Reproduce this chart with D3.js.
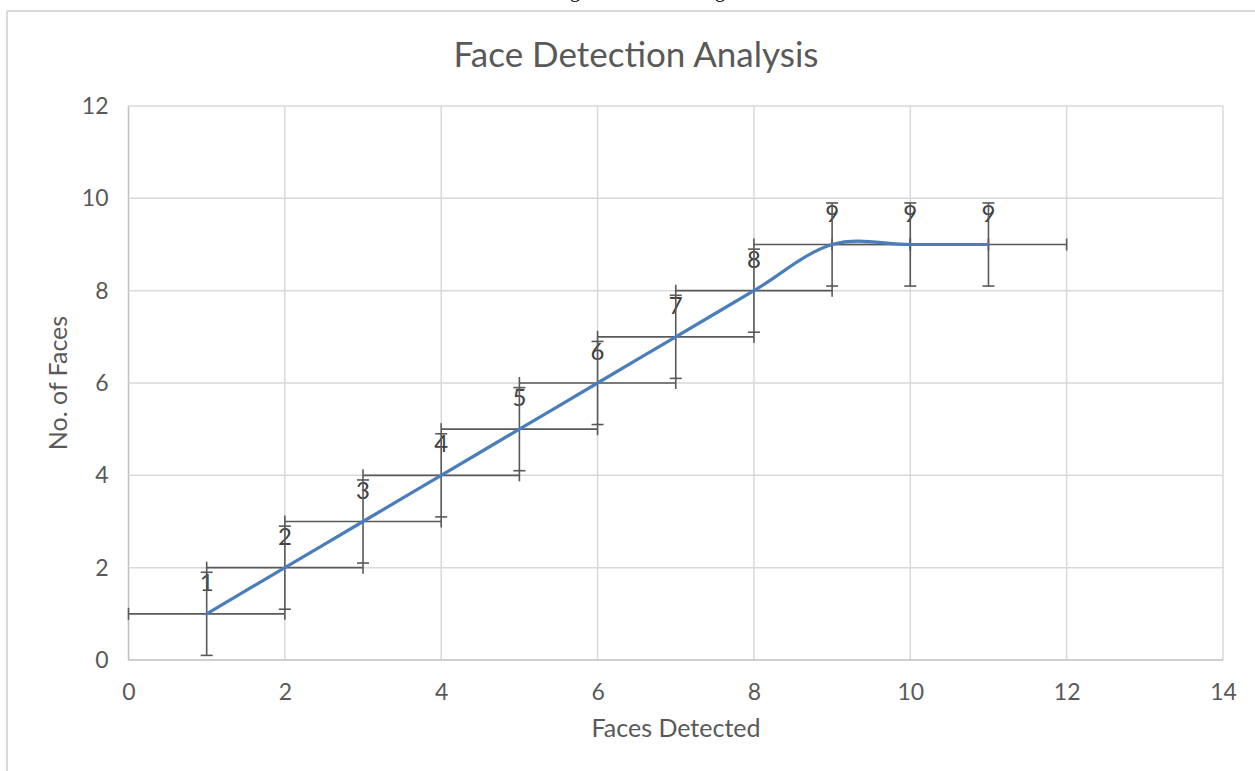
<!DOCTYPE html>
<html><head><meta charset="utf-8">
<script src="https://cdn.jsdelivr.net/npm/d3@7"></script>
<style>html,body{margin:0;padding:0;background:#fff;overflow:hidden}</style>
</head><body>
<svg id="c" width="1255" height="771"></svg>
<script>
const facesDetected = [1,2,3,4,5,6,7,8,9,10,11];
const noOfFaces     = [1,2,3,4,5,6,7,8,9,9,9];
const xErrPlus  = 1, xErrMinus = 1;
const yErrPlus  = 0.9, yErrMinus = 0.9;
const xTicks = [0,2,4,6,8,10,12,14];
const yTicks = [0,2,4,6,8,10,12];
const titleText = "Face Detection Analysis";
const xTitle = "Faces Detected";
const yTitle = "No. of Faces";

const svg = d3.select("#c");
const font = "Lato, 'Open Sans', sans-serif";
const grey = "#595959";

// outer chart border (only top and left visible)
svg.append("line").attr("x1",7).attr("x2",1255).attr("y1",11).attr("y2",11).attr("stroke","#d9d9d9").attr("stroke-width",2);
svg.append("line").attr("x1",7).attr("x2",7).attr("y1",11).attr("y2",771).attr("stroke","#d9d9d9").attr("stroke-width",2);

// cut-off caption text at top (only descenders visible)
svg.append("text").attr("x",575).attr("y",-3).attr("text-anchor","middle").attr("font-family","'Liberation Serif', serif").attr("font-size",20).attr("fill","#000").text("g");
svg.append("text").attr("x",720).attr("y",-3).attr("text-anchor","middle").attr("font-family","'Liberation Serif', serif").attr("font-size",20).attr("fill","#000").text("g");

const x = d3.scaleLinear().domain([0,14]).range([128.5,1223]);
const y = d3.scaleLinear().domain([0,12]).range([660,106]);

// gridlines
svg.append("g").selectAll("line.v").data(xTicks).join("line")
  .attr("x1",d=>x(d)).attr("x2",d=>x(d)).attr("y1",y(12)).attr("y2",y(0))
  .attr("stroke",d=>d===0?"#bfbfbf":"#d9d9d9").attr("stroke-width",1.5);
svg.append("g").selectAll("line.h").data(yTicks).join("line")
  .attr("x1",x(0)).attr("x2",x(14)).attr("y1",d=>y(d)).attr("y2",d=>y(d))
  .attr("stroke",d=>d===0?"#bfbfbf":"#d9d9d9").attr("stroke-width",1.5);

// axes via d3 (no lines, labels only)
const xAxis = svg.append("g").attr("transform",`translate(0,${y(0)})`)
  .call(d3.axisBottom(x).tickValues(xTicks).tickSize(0).tickPadding(24));
const yAxis = svg.append("g").attr("transform",`translate(${x(0)},0)`)
  .call(d3.axisLeft(y).tickValues(yTicks).tickSize(0).tickPadding(20));
[xAxis,yAxis].forEach(a=>{
  a.select(".domain").remove();
  a.selectAll("text").attr("font-family",font).attr("font-size",23).attr("fill",grey);
});

// titles
svg.append("text").attr("x",636).attr("y",67).attr("text-anchor","middle")
  .attr("font-family",font).attr("font-size",35).attr("fill",grey).text(titleText);
svg.append("text").attr("x",676).attr("y",737).attr("text-anchor","middle")
  .attr("font-family",font).attr("font-size",25).attr("fill",grey).text(xTitle);
svg.append("text").attr("transform","translate(67,383) rotate(-90)").attr("text-anchor","middle")
  .attr("font-family",font).attr("font-size",25).attr("fill",grey).text(yTitle);

const data = facesDetected.map((d,i)=>({x:d,y:noOfFaces[i]}));

// data labels
svg.append("g").selectAll("text").data(data).join("text")
  .attr("x",d=>x(d.x)).attr("y",d=>y(d.y)-23).attr("text-anchor","middle")
  .attr("font-family",font).attr("font-size",24).attr("fill","#404040").text(d=>d.y);

// error bars
const cap = 6;
const eb = svg.append("g").attr("stroke",grey).attr("stroke-width",1.6).attr("fill","none");
data.forEach(d=>{
  eb.append("line").attr("x1",x(d.x-xErrMinus)).attr("x2",x(d.x+xErrPlus)).attr("y1",y(d.y)).attr("y2",y(d.y));
  [d.x-xErrMinus,d.x+xErrPlus].forEach(v=>eb.append("line").attr("x1",x(v)).attr("x2",x(v)).attr("y1",y(d.y)-cap).attr("y2",y(d.y)+cap));
  eb.append("line").attr("x1",x(d.x)).attr("x2",x(d.x)).attr("y1",y(d.y-yErrMinus)).attr("y2",y(d.y+yErrPlus));
  [d.y-yErrMinus,d.y+yErrPlus].forEach(v=>eb.append("line").attr("x1",x(d.x)-cap).attr("x2",x(d.x)+cap).attr("y1",y(v)).attr("y2",y(v)));
});

// smoothed line
const line = d3.line().x(d=>x(d.x)).y(d=>y(d.y)).curve(d3.curveCardinal.tension(0));
svg.append("path").datum(data).attr("d",line).attr("fill","none")
  .attr("stroke","#4a7ebb").attr("stroke-width",3.2).attr("stroke-linecap","round");
</script>
</body></html>
